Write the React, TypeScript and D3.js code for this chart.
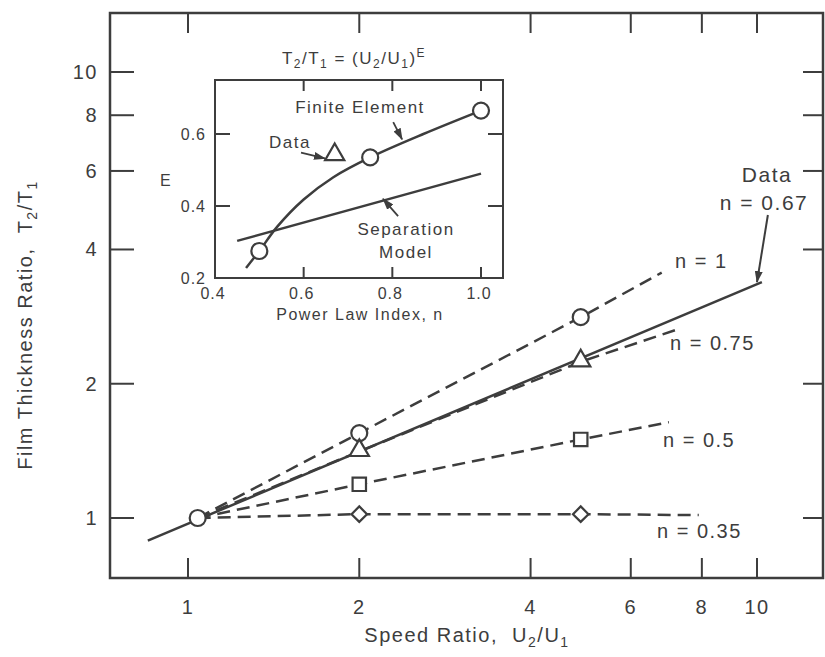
import React from 'react'
import * as d3 from 'd3'

// main chart ticks
const xTicks = [1, 2, 4, 6, 8, 10]
const yTicks = [1, 2, 4, 6, 8, 10]

// dashed lines: the first three points carry markers, the last is where the dash stops
const n100U = [1.04, 2, 4.9, 6.8]
const n100T = [1, 1.55, 2.82, 3.55]
const n075U = [1.04, 2, 4.9, 7.2]
const n075T = [1, 1.41, 2.24, 2.64]
const n050U = [1.04, 2, 4.9, 7.0]
const n050T = [1, 1.19, 1.5, 1.64]
const n035U = [1.04, 2, 4.9, 7.9]
const n035T = [1, 1.02, 1.02, 1.015]

// solid line, data for n = 0.67
const dataU = [0.85, 10.2]
const dataT = [0.89, 3.38]

// inset: exponent E against power law index n
const insetXTicks = [0.4, 0.6, 0.8, 1.0]
const insetYTicks = [0.2, 0.4, 0.6]
const feN = [0.47, 0.5, 0.54, 0.6, 0.667, 0.75, 0.87, 1.0]
const feE = [0.228, 0.275, 0.342, 0.418, 0.48, 0.535, 0.6, 0.665]
const feMarkN = [0.5, 0.75, 1.0]
const feMarkE = [0.275, 0.535, 0.665]
const sepN = [0.45, 1.0]
const sepE = [0.303, 0.49]
const dataN = 0.67
const dataE = 0.54

const INK = '#3d3d3d'
const FONT = '"Liberation Sans", Arial, Helvetica, sans-serif'

const frame = { left: 110, top: 13, right: 823, bottom: 578 }
const inset = { left: 215, top: 80, right: 503, bottom: 278 }

const x = d3.scaleLog().domain([1, 10]).range([188, 757])
const y = d3.scaleLog().domain([1, 10]).range([518, 72])
const ix = d3.scaleLinear().domain([0.4, 1.0]).range([215, 481])
const iy = d3.scaleLinear().domain([0.2, 0.6]).range([278, 134])

const zip = (a: number[], b: number[]) => a.map((v, i) => [v, b[i]] as [number, number])

const mainLine = d3.line<[number, number]>().x(d => x(d[0])).y(d => y(d[1]))
const insetLine = d3.line<[number, number]>().x(d => ix(d[0])).y(d => iy(d[1]))
const insetCurve = d3.line<[number, number]>().x(d => ix(d[0])).y(d => iy(d[1])).curve(d3.curveCatmullRom.alpha(0.5))

const sym = (type: d3.SymbolType, size: number) => d3.symbol().type(type).size(size)() as string

const dashed = [
  { u: n100U, t: n100T, shape: 'circle' },
  { u: n075U, t: n075T, shape: 'triangle' },
  { u: n050U, t: n050T, shape: 'square' },
  { u: n035U, t: n035T, shape: 'diamond' },
]

function Marker({ cx, cy, shape }: { cx: number; cy: number; shape: string }) {
  const common = { fill: '#fff', stroke: INK, strokeWidth: 2.2 }
  if (shape === 'circle') return <circle cx={cx} cy={cy} r={8} {...common} />
  if (shape === 'triangle')
    return <path d={sym(d3.symbolTriangle, 160)} transform={`translate(${cx},${cy - 1})`} {...common} />
  if (shape === 'square') return <path d={sym(d3.symbolSquare, 180)} transform={`translate(${cx},${cy})`} {...common} />
  return <path d={sym(d3.symbolSquare, 120)} transform={`translate(${cx},${cy}) rotate(45)`} {...common} />
}

export default function App() {
  const tick = 20
  const txt = { fontFamily: FONT, fill: INK, letterSpacing: 1.5 }
  return (
    <svg width={825} height={657} style={{ display: 'block', position: 'absolute', left: 0, top: 0, background: '#fff' }}>
      <defs>
        <marker id="ah" viewBox="0 0 12 8" refX={11} refY={4} markerWidth={12} markerHeight={8} markerUnits="userSpaceOnUse" orient="auto">
          <path d="M0,0 L12,4 L0,8 z" fill={INK} />
        </marker>
      </defs>

      {/* main frame */}
      <rect x={frame.left} y={frame.top} width={frame.right - frame.left} height={frame.bottom - frame.top}
        fill="none" stroke={INK} strokeWidth={2.5} />

      {xTicks.map(v => (
        <g key={'xt' + v}>
          <line x1={x(v)} x2={x(v)} y1={frame.bottom} y2={frame.bottom - tick} stroke={INK} strokeWidth={2} />
          <line x1={x(v)} x2={x(v)} y1={frame.top} y2={frame.top + tick} stroke={INK} strokeWidth={2} />
          <text x={x(v)} y={614} textAnchor="middle" fontSize={20} {...txt}>{v}</text>
        </g>
      ))}
      {yTicks.map(v => (
        <g key={'yt' + v}>
          <line x1={frame.left} x2={frame.left + tick + 4} y1={y(v)} y2={y(v)} stroke={INK} strokeWidth={2} />
          <line x1={frame.right} x2={frame.right - tick} y1={y(v)} y2={y(v)} stroke={INK} strokeWidth={2} />
          <text x={98} y={y(v) + 7} textAnchor="end" fontSize={20} {...txt}>{v}</text>
        </g>
      ))}

      <text x={467} y={642} textAnchor="middle" fontSize={20} {...txt}>
        Speed Ratio,{'\u00a0\u00a0'}U<tspan fontSize={14} dy={5}>2</tspan><tspan dy={-5}>/U</tspan><tspan fontSize={14} dy={5}>1</tspan>
      </text>
      <text transform="translate(32,325) rotate(-90)" textAnchor="middle" fontSize={20} {...txt}>
        Film Thickness Ratio,{'\u00a0\u00a0'}T<tspan fontSize={14} dy={5}>2</tspan><tspan dy={-5}>/T</tspan><tspan fontSize={14} dy={5}>1</tspan>
      </text>

      {/* data lines */}
      {dashed.map((s, i) => (
        <path key={'dl' + i} d={mainLine(zip(s.u, s.t)) as string} fill="none" stroke={INK} strokeWidth={2.5} strokeDasharray="13,7" />
      ))}
      <path d={mainLine(zip(dataU, dataT)) as string} fill="none" stroke={INK} strokeWidth={2.5} />
      {dashed.map((s, i) =>
        s.u.slice(0, 3).map((u, j) =>
          i > 0 && j === 0 ? null : <Marker key={`m${i}-${j}`} cx={x(u)} cy={y(s.t[j])} shape={s.shape} />
        )
      )}

      {/* main annotations */}
      <text x={767} y={182} textAnchor="middle" fontSize={21} {...txt}>Data</text>
      <text x={764} y={210} textAnchor="middle" fontSize={21} {...txt}>n = 0.67</text>
      <line x1={x(10.45)} y1={y(4.78)} x2={x(10)} y2={y(3.38)} stroke={INK} strokeWidth={2} markerEnd="url(#ah)" />
      <text x={675} y={268} fontSize={20} {...txt}>n = 1</text>
      <text x={670} y={350} fontSize={20} {...txt}>n = 0.75</text>
      <text x={663} y={447} fontSize={20} {...txt}>n = 0.5</text>
      <text x={657} y={538} fontSize={20} {...txt}>n = 0.35</text>

      {/* inset */}
      <rect x={inset.left} y={inset.top} width={inset.right - inset.left} height={inset.bottom - inset.top}
        fill="#fff" stroke={INK} strokeWidth={2} />
      {insetXTicks.map(v => (
        <g key={'ixt' + v}>
          {v > 0.4 && <line x1={ix(v)} x2={ix(v)} y1={inset.bottom} y2={inset.bottom - 11} stroke={INK} strokeWidth={2} />}
          {v > 0.4 && <line x1={ix(v)} x2={ix(v)} y1={inset.top} y2={inset.top + 11} stroke={INK} strokeWidth={2} />}
          <text x={ix(v) - 2} y={299} textAnchor="middle" fontSize={16} {...txt} letterSpacing={1}>{v.toFixed(1)}</text>
        </g>
      ))}
      {insetYTicks.map(v => (
        <g key={'iyt' + v}>
          {v > 0.2 && <line x1={inset.left} x2={inset.left + 15} y1={iy(v)} y2={iy(v)} stroke={INK} strokeWidth={2} />}
          {v > 0.2 && <line x1={inset.right} x2={inset.right - 15} y1={iy(v)} y2={iy(v)} stroke={INK} strokeWidth={2} />}
          <text x={206} y={iy(v) + 6} textAnchor="end" fontSize={16} {...txt} letterSpacing={1}>{v.toFixed(1)}</text>
        </g>
      ))}
      <text x={166} y={186} textAnchor="middle" fontSize={16} {...txt}>E</text>
      <text x={360} y={320} textAnchor="middle" fontSize={16} {...txt}>Power Law Index, n</text>
      <text x={354} y={64} textAnchor="middle" fontSize={17} {...txt}>
        T<tspan fontSize={12} dy={4}>2</tspan><tspan dy={-4}>/T</tspan><tspan fontSize={12} dy={4}>1</tspan>
        <tspan dy={-4}> = (U</tspan><tspan fontSize={12} dy={4}>2</tspan><tspan dy={-4}>/U</tspan><tspan fontSize={12} dy={4}>1</tspan>
        <tspan dy={-4}>)</tspan><tspan fontSize={12} dy={-7}>E</tspan>
      </text>

      <path d={insetLine(zip(sepN, sepE)) as string} fill="none" stroke={INK} strokeWidth={2.5} />
      <path d={insetCurve(zip(feN, feE)) as string} fill="none" stroke={INK} strokeWidth={2.5} />
      {feMarkN.map((n, i) => (
        <Marker key={'fe' + i} cx={ix(n)} cy={iy(feMarkE[i])} shape="circle" />
      ))}
      <Marker cx={ix(dataN)} cy={iy(dataE)} shape="triangle" />

      <text x={360} y={113} textAnchor="middle" fontSize={17} {...txt}>Finite Element</text>
      <line x1={ix(0.802)} y1={iy(0.633)} x2={ix(0.822)} y2={iy(0.585)} stroke={INK} strokeWidth={1.8} markerEnd="url(#ah)" />
      <text x={290} y={148} textAnchor="middle" fontSize={17} {...txt}>Data</text>
      <line x1={ix(0.594)} y1={iy(0.548)} x2={ix(0.648)} y2={iy(0.532)} stroke={INK} strokeWidth={1.8} markerEnd="url(#ah)" />
      <text x={406} y={235} textAnchor="middle" fontSize={17} {...txt}>Separation</text>
      <text x={406} y={258} textAnchor="middle" fontSize={17} {...txt}>Model</text>
      <line x1={ix(0.813)} y1={iy(0.372)} x2={ix(0.779)} y2={iy(0.42)} stroke={INK} strokeWidth={1.8} markerEnd="url(#ah)" />
    </svg>
  )
}
